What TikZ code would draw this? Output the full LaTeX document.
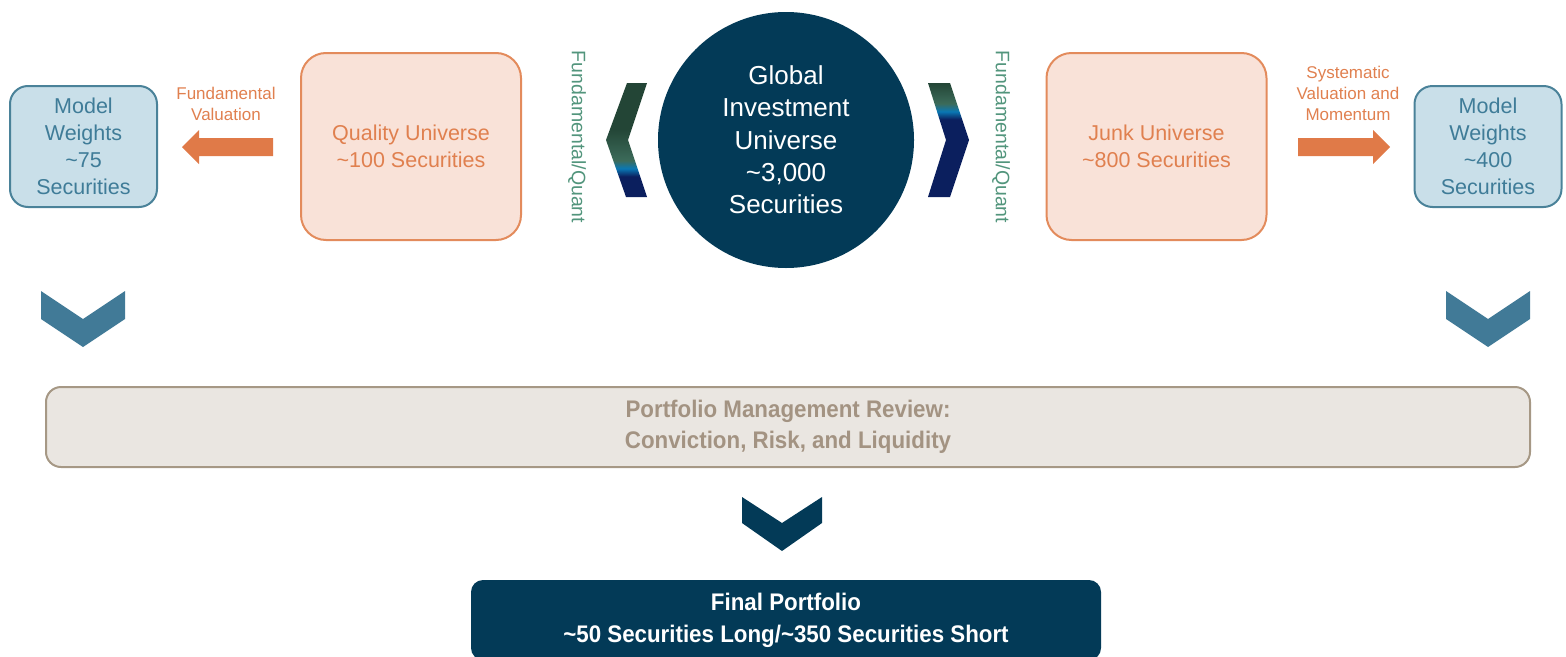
\documentclass[tikz,border=0pt]{standalone}
\usepackage{fontspec}
\setmainfont{Liberation Sans}
\newfontfamily\condfont[FakeStretch=0.93]{Liberation Sans}
\usetikzlibrary{positioning}
\usepackage{xcolor}
\definecolor{modelfill}{HTML}{C9DFE9}
\definecolor{modelline}{HTML}{4A8299}
\definecolor{modeltext}{HTML}{3F7C98}
\definecolor{unifill}{HTML}{F9E2D8}
\definecolor{uniline}{HTML}{E38B5C}
\definecolor{unitext}{HTML}{E0804F}
\definecolor{arroworange}{HTML}{E07A48}
\definecolor{quantgreen}{HTML}{52957C}
\definecolor{navy}{HTML}{033A57}
\definecolor{chevblue}{HTML}{417A97}
\definecolor{pmfill}{HTML}{EAE6E1}
\definecolor{pmline}{HTML}{A69885}
\definecolor{pmtext}{HTML}{A39382}
\definecolor{chgreen}{HTML}{234536}
\definecolor{chgreenlt}{HTML}{3C6B5A}
\definecolor{chbright}{HTML}{0A78B4}
\definecolor{chnavy}{HTML}{0B1F5E}
% shadings for the two side chevrons (box maps to 25bp..75bp)
\pgfdeclareverticalshading{chevleft}{100bp}{color(0bp)=(chnavy); color(34bp)=(chnavy);
  color(37.5bp)=(chbright); color(41bp)=(chgreenlt); color(55bp)=(chgreen); color(100bp)=(chgreen)}
\pgfdeclareverticalshading{chevright}{100bp}{color(0bp)=(chnavy); color(59bp)=(chnavy);
  color(62.5bp)=(chbright); color(66bp)=(chgreenlt); color(75bp)=(chgreen); color(100bp)=(chgreen)}
\tikzset{
  model box/.style={draw=modelline, fill=modelfill, line width=2pt, rounded corners=18pt,
    text=modeltext, minimum width=147pt, minimum height=121pt, align=center,
    font=\fontsize{21.5}{27}\selectfont},
  universe box/.style={draw=uniline, fill=unifill, line width=2pt, rounded corners=25pt,
    text=unitext, minimum width=220pt, minimum height=187pt, align=center,
    font=\fontsize{21.5}{27}\selectfont},
  method label/.style={text=unitext, align=center, font=\fontsize{17}{21}\selectfont},
  quant label/.style={text=quantgreen, rotate=-90, font=\fontsize{19.5}{22}\selectfont},
  review box/.style={draw=pmline, fill=pmfill, line width=2pt, rounded corners=15pt,
    text=pmtext, minimum width=1484pt, minimum height=80pt, align=center,
    font=\condfont\bfseries\fontsize{24}{31}\selectfont},
  final box/.style={fill=navy, rounded corners=12pt, text=white, minimum width=630pt,
    minimum height=80pt, align=center, font=\condfont\bfseries\fontsize{24}{32}\selectfont},
}

\begin{document}
\begin{tikzpicture}[x=1pt, y=-1pt]
  \useasboundingbox (0,0) rectangle (1566,656);

  % GLOBAL UNIVERSE
  \node[circle, fill=navy, minimum size=256pt, text=white, align=center,
    font=\fontsize{26}{32.3}\selectfont] (global) at (786,140)
    {Global\\Investment\\Universe\\\textasciitilde3,000\\Securities};

  % side chevrons
  \shade[shading=chevleft] (627,83) -- (647,83) -- (628,140) -- (647,197) -- (626,197) -- (606,140) -- cycle;
  \shade[shading=chevright] (928,83) -- (950,83) -- (969,140) -- (950,197) -- (928,197) -- (946,140) -- cycle;
  \node[quant label] (quantL) at (577,137) {Fundamental/Quant};
  \node[quant label] (quantR) at (1001,137) {Fundamental/Quant};

  % QUALITY SIDE
  \node[universe box] (quality) at (411,146.5) {Quality Universe\\\textasciitilde100 Securities};
  \node[model box] (modelL) at (83.5,146.5) {Model\\Weights\\\textasciitilde75\\Securities};
  \node[method label] (fundval) at (226,103.5) {Fundamental\\Valuation};
  \fill[arroworange] (273,138) -- (199,138) -- (199,130) -- (182,147) -- (199,164) -- (199,156) -- (273,156) -- cycle;

  % JUNK SIDE
  \node[universe box] (junk) at (1156.5,146.5) {Junk Universe\\\textasciitilde800 Securities};
  \node[model box] (modelR) at (1488,146.5) {Model\\Weights\\\textasciitilde400\\Securities};
  \node[method label] (sysval) at (1348,93) {Systematic\\Valuation and\\Momentum};
  \fill[arroworange] (1298,138) -- (1373,138) -- (1373,130) -- (1390,147) -- (1373,164) -- (1373,156) -- (1298,156) -- cycle;

  % down chevrons
  \foreach \cx in {83,1488}
    \fill[chevblue] (\cx-42,291) -- (\cx,319) -- (\cx+42,291) -- (\cx+42,319) -- (\cx,347) -- (\cx-42,319) -- cycle;

  % REVIEW
  \node[review box] (review) at (788,427) {Portfolio Management Review:\\Conviction, Risk, and Liquidity};

  \fill[navy] (742,497) -- (782,523) -- (822,497) -- (822,523) -- (782,551) -- (742,523) -- cycle;

  % FINAL
  \node[final box] (final) at (786,620) {Final Portfolio\\\textasciitilde50 Securities Long/\textasciitilde350 Securities Short};
\end{tikzpicture}
\end{document}
